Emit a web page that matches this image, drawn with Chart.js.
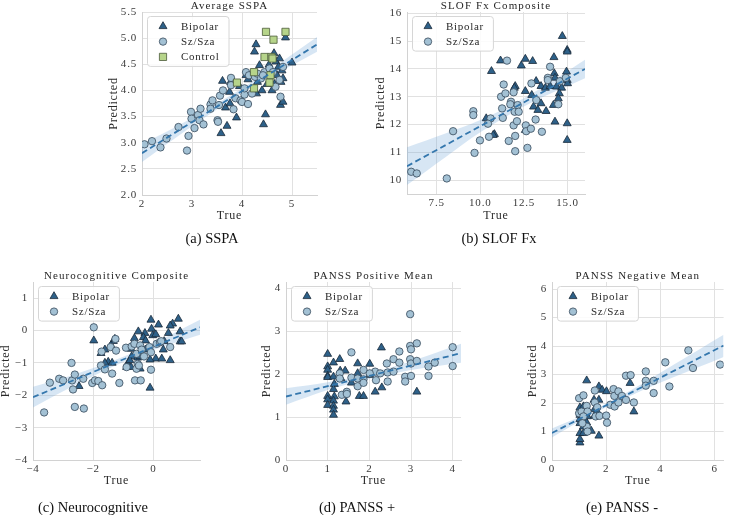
<!DOCTYPE html>
<html>
<head>
<meta charset="utf-8">
<script src="https://cdn.jsdelivr.net/npm/chart.js@4.4.0/dist/chart.umd.min.js"></script>
<style>
  html, body { margin: 0; padding: 0; background: #fff; }
  #fig { position: relative; width: 729px; height: 515px; overflow: hidden; }
  #fig canvas { position: absolute; left: 0; top: 0; }
  .cap {
    position: absolute; width: 160px; text-align: center; white-space: nowrap;
    font-family: 'Liberation Serif', 'Times New Roman', serif;
    font-size: 14.5px; line-height: 14.5px; color: #111;
  }
</style>
</head>
<body>
<div id="fig">
  <canvas id="c0" width="729" height="515"></canvas>
  <canvas id="c1" width="729" height="515"></canvas>
  <canvas id="c2" width="729" height="515"></canvas>
  <canvas id="c3" width="729" height="515"></canvas>
  <canvas id="c4" width="729" height="515"></canvas>
  <div class="cap" style="left:132px;top:231px">(a) SSPA</div>
  <div class="cap" style="left:419px;top:231px">(b) SLOF Fx</div>
  <div class="cap" style="left:13px;top:500px">(c) Neurocognitive</div>
  <div class="cap" style="left:277px;top:500px">(d) PANSS +</div>
  <div class="cap" style="left:542px;top:500px">(e) PANSS -</div>
</div>
<script>
// ---------- data ----------
const groupNames = ["Bipolar", "Sz/Sza", "Control"];

// (a) Average SSPA
const sspaXTicks = [2, 3, 4, 5];
const sspaYTicks = [2, 2.5, 3, 3.5, 4, 4.5, 5, 5.5];
const sspaBipolar = [[3.58,3.18],[3.70,3.32],[3.67,3.67],[3.61,4.18],[3.75,3.97],[3.76,3.75],[3.77,4.16],[3.89,3.48],[3.95,4.08],[4.08,4.29],[4.12,4.21],[4.25,4.74],[4.28,4.88],[4.29,3.94],[4.31,4.16],[4.35,4.48],[4.40,4.00],[4.43,3.35],[4.47,3.54],[4.50,4.12],[4.54,4.49],[4.55,4.35],[4.60,4.00],[4.64,4.71],[4.65,4.12],[4.68,4.55],[4.70,4.29],[4.75,4.61],[4.78,4.16],[4.77,3.72],[4.82,3.78],[4.80,4.38],[4.82,4.23],[4.87,5.01],[5.00,4.53],[4.73,4.45]];
const sspaSz = [[2.05,2.97],[2.20,3.03],[2.37,2.91],[2.49,3.08],[2.73,3.30],[2.90,2.85],[2.93,3.13],[2.98,3.59],[2.99,3.46],[3.05,3.28],[3.12,3.53],[3.15,3.43],[3.17,3.65],[3.23,3.35],[3.37,3.73],[3.37,3.65],[3.41,3.81],[3.51,3.43],[3.52,3.40],[3.56,3.90],[3.62,4.00],[3.54,3.72],[3.78,4.24],[3.78,4.10],[3.83,3.64],[3.87,3.85],[3.97,3.81],[4.00,3.78],[4.05,3.92],[4.12,3.74],[4.05,4.04],[4.08,4.35],[4.14,4.29],[4.20,3.94],[4.26,4.26],[4.31,4.32],[4.38,4.23],[4.45,4.35],[4.55,4.42],[4.62,4.35],[4.67,4.07],[4.75,4.20],[4.77,3.88],[4.82,4.45],[4.42,4.29]];
const sspaControl = [[4.48,5.12],[4.87,5.12],[4.63,4.97],[4.45,4.64],[4.59,4.64],[4.61,4.61],[4.57,4.29],[4.55,4.15],[4.24,4.35],[4.24,4.04],[3.90,4.15]];
const sspaLineX = [2, 5.5];
const sspaLineY = [2.80, 4.88];
const sspaBandX = [2, 2.9, 3.8, 4.6, 5.5];
const sspaBandLo = [2.63, 3.25, 3.82, 4.27, 4.74];
const sspaBandHi = [2.97, 3.42, 3.92, 4.42, 5.02];

// (b) SLOF Fx Composite
const slofXTicks = [7.5, 10, 12.5, 15];
const slofYTicks = [10, 11, 12, 13, 14, 15, 16];
const slofBipolar = [[14.70,15.18],[14.98,14.68],[14.98,14.62],[11.16,14.30],[10.64,13.92],[12.58,14.36],[12.35,14.12],[13.00,14.28],[14.22,14.42],[14.24,13.84],[14.28,13.68],[14.94,13.90],[14.98,13.60],[15.00,13.48],[13.20,13.56],[13.48,13.38],[13.73,13.32],[14.00,13.38],[14.37,13.36],[14.66,13.32],[14.53,13.12],[14.47,12.94],[12.95,13.06],[12.58,13.20],[12.00,13.38],[11.95,13.32],[13.05,12.64],[13.30,12.52],[13.48,12.76],[13.77,12.48],[14.19,12.70],[14.28,12.10],[14.98,12.04],[14.98,11.44],[10.34,12.22],[10.81,11.65],[10.74,11.62],[12.58,11.80]];
const slofSz = [[6.04,10.30],[6.36,10.24],[8.08,10.06],[8.44,11.76],[9.60,12.48],[9.60,12.34],[9.67,10.98],[9.98,11.43],[10.59,12.22],[10.44,12.03],[10.50,11.56],[11.53,14.30],[11.34,13.44],[11.19,13.00],[11.25,12.58],[11.29,12.24],[11.44,13.12],[11.63,11.41],[11.76,12.82],[11.72,12.73],[11.91,11.97],[12.00,11.59],[11.97,12.46],[12.00,11.04],[12.10,12.12],[12.14,12.70],[12.20,12.46],[11.91,13.16],[12.61,11.97],[12.63,11.76],[12.70,11.16],[12.90,11.85],[12.93,13.48],[13.17,12.18],[13.21,12.88],[13.53,11.74],[13.87,13.68],[13.87,13.60],[14.00,14.08],[14.47,12.73],[14.56,13.56],[14.90,13.68]];
const slofLineX = [5.8, 16];
const slofLineY = [10.50, 14.00];
const slofBandX = [5.8, 8, 10, 12.5, 14, 16];
const slofBandLo = [9.82, 10.82, 11.72, 12.65, 13.11, 13.67];
const slofBandHi = [11.18, 11.68, 12.16, 12.95, 13.51, 14.33];

// (c) Neurocognitive Composite
const neuroXTicks = [-4, -2, 0];
const neuroYTicks = [-4, -3, -2, -1, 0, 1];
const neuroBipolar = [[-0.08,0.33],[0.17,0.18],[0.83,0.36],[0.64,0.21],[0.56,0.15],[0.50,-0.08],[0.89,-0.03],[0.89,-0.34],[0.94,-0.34],[-0.50,-0.03],[-0.28,-0.08],[-0.06,0.05],[-0.02,-0.15],[0.08,-0.12],[-0.33,-0.21],[-0.63,-0.24],[-0.26,-0.31],[-0.26,-0.59],[0.33,-0.59],[0.36,-0.33],[0.08,-0.87],[0.28,-0.87],[0.56,-0.92],[-0.11,-0.90],[-0.74,-0.57],[-0.72,-0.80],[-0.52,-0.84],[-0.44,-0.80],[-0.86,-1.03],[-0.78,-0.92],[-0.89,-1.13],[-0.74,-1.13],[-0.44,-1.18],[-0.11,-1.77],[-1.98,-0.31],[-1.33,-0.33],[-1.28,-0.26],[-1.41,-0.46],[-1.61,-0.59],[-1.74,-0.70],[-1.50,-0.97],[-1.37,-1.00],[-1.61,-1.00],[-2.47,-1.72]];
const neuroSz = [[-3.63,-2.53],[-3.44,-1.61],[-3.13,-1.49],[-3.00,-1.54],[-2.72,-1.00],[-2.70,-1.54],[-2.61,-1.36],[-2.67,-1.82],[-2.61,-2.36],[-2.33,-1.49],[-2.31,-2.41],[-1.98,0.10],[-2.03,-1.62],[-1.94,-1.54],[-1.83,-1.56],[-1.70,-1.69],[-1.72,-0.65],[-1.74,-1.08],[-1.61,-1.20],[-1.42,-0.51],[-1.37,-1.33],[-1.26,-0.26],[-1.24,-0.62],[-1.13,-1.62],[-0.91,-0.53],[-0.89,-1.13],[-0.72,-0.49],[-0.63,-0.41],[-0.61,-1.54],[-0.56,-0.72],[-0.52,-1.03],[-0.44,-0.46],[-0.42,-1.54],[-0.39,-0.59],[-0.31,-0.80],[-0.13,-0.51],[-0.08,-1.21],[-0.08,-0.67],[0.11,-0.41],[0.22,-0.36],[0.26,-0.33],[0.56,-0.51],[-0.56,-1.18],[-0.48,-1.08]];
const neuroLineX = [-4, 1.55];
const neuroLineY = [-2.06, 0.10];
const neuroBandX = [-4, -2.5, -1, 0, 1.55];
const neuroBandLo = [-2.38, -1.64, -0.97, -0.60, -0.13];
const neuroBandHi = [-1.74, -1.32, -0.81, -0.40, 0.33];

// (d) PANSS Positive Mean
const posXTicks = [0, 1, 2, 3, 4];
const posYTicks = [0, 1, 2, 3, 4];
const posBipolar = [[1.00,2.47],[1.00,2.18],[1.00,2.10],[1.00,1.96],[1.00,1.93],[1.00,1.49],[1.00,1.41],[1.00,1.28],[1.14,2.27],[1.29,2.35],[1.14,1.94],[1.16,1.77],[1.14,1.65],[1.16,1.48],[1.14,1.38],[1.14,1.26],[1.14,1.17],[1.14,1.05],[1.30,2.08],[1.42,2.08],[1.44,1.36],[1.32,1.90],[1.72,2.25],[1.72,2.02],[1.76,1.49],[1.86,1.49],[1.57,1.80],[2.01,2.24],[2.01,1.98],[2.14,1.59],[2.29,2.62],[2.30,1.69],[3.14,1.59]];
const posSz = [[1.57,2.51],[1.29,2.02],[1.29,1.90],[1.34,1.52],[1.46,1.59],[1.46,1.54],[1.57,1.92],[1.72,1.90],[1.72,1.72],[1.86,2.10],[1.86,1.88],[1.86,1.80],[2.14,2.06],[2.16,1.86],[2.26,2.02],[2.42,2.25],[2.44,2.04],[2.44,1.83],[2.58,2.35],[2.58,2.06],[2.72,2.53],[2.72,2.27],[2.86,1.94],[2.86,1.83],[2.98,3.40],[2.98,2.66],[3.00,2.58],[2.98,2.35],[3.00,2.25],[3.00,1.96],[3.14,2.72],[3.14,2.31],[3.42,2.18],[3.42,1.96],[3.57,2.27],[4.00,2.63],[4.00,2.19],[2.01,2.02]];
const posLineX = [0, 4.2];
const posLineY = [1.48, 2.49];
const posBandX = [0, 1, 1.8, 3, 4.2];
const posBandLo = [1.29, 1.63, 1.85, 2.10, 2.27];
const posBandHi = [1.67, 1.81, 1.97, 2.30, 2.71];

// (e) PANSS Negative Mean
const negXTicks = [0, 2, 4, 6];
const negYTicks = [0, 1, 2, 3, 4, 5, 6];
const negBipolar = [[1.03,0.61],[1.03,0.73],[1.03,0.94],[1.03,1.29],[1.03,1.43],[1.03,1.58],[1.03,1.73],[1.03,1.84],[1.16,0.94],[1.16,1.17],[1.16,1.47],[1.16,1.88],[1.28,1.31],[1.28,2.79],[1.31,1.53],[1.45,1.02],[1.55,2.11],[1.57,1.78],[1.57,1.55],[1.73,2.58],[1.73,2.11],[1.73,0.85],[1.85,2.46],[2.01,2.41],[2.88,2.70],[3.02,1.70],[1.67,1.70]];
const negSz = [[1.00,2.17],[1.16,2.27],[1.00,1.64],[1.09,1.70],[1.28,1.90],[1.31,1.70],[1.16,1.53],[1.28,1.17],[1.31,1.00],[1.12,1.29],[1.58,2.44],[1.58,2.02],[1.61,1.53],[1.67,1.85],[1.75,1.55],[2.00,1.56],[2.03,1.31],[2.15,1.94],[2.27,2.49],[2.30,2.25],[2.31,1.88],[2.45,2.41],[2.45,2.02],[2.58,2.25],[2.73,2.96],[2.90,2.98],[2.73,2.11],[3.02,2.02],[3.46,3.11],[3.46,2.78],[3.46,2.61],[3.75,2.78],[3.75,2.35],[4.18,3.43],[4.33,2.58],[5.03,3.85],[5.20,3.23],[6.20,3.35]];
const negLineX = [0, 6.33];
const negLineY = [0.95, 4.02];
const negBandX = [0, 1, 1.8, 3, 4.5, 6.33];
const negBandLo = [0.79, 1.35, 1.76, 2.30, 2.91, 3.62];
const negBandHi = [1.11, 1.51, 1.88, 2.50, 3.35, 4.40];

// ---------- styling / layout ----------
const FONT = "'Liberation Serif', 'Times New Roman', serif";
const W = 729, H = 515;
Chart.defaults.font.family = FONT;
Chart.defaults.color = "#3a3a3a";

const markStyle = {
  "Bipolar": { pointStyle: "triangle", radius: 4.6, bg: "#2e6189", border: "#1a2a38" },
  "Sz/Sza":  { pointStyle: "circle",   radius: 3.7, bg: "#a3c1d4", border: "#36495a" },
  "Control": { pointStyle: "rect",     radius: 5.1, bg: "#b6d48a", border: "#4b5a3a" }
};

const panels = [
  { id: "c0", title: "Average SSPA", area: [142, 12, 317, 195], yTitleX: 114, xTitleY: 216,
    xMin: 2, xMax: 5.5, yMin: 2, yMax: 5.5, xTicks: sspaXTicks, yTicks: sspaYTicks, xDec: 0, yDec: 1,
    groups: [sspaBipolar, sspaSz, sspaControl],
    lineX: sspaLineX, lineY: sspaLineY, bandX: sspaBandX, bandLo: sspaBandLo, bandHi: sspaBandHi },
  { id: "c1", title: "SLOF Fx Composite", area: [407, 12, 585, 194], yTitleX: 381, xTitleY: 216,
    xMin: 5.8, xMax: 16, yMin: 9.5, yMax: 16.05, xTicks: slofXTicks, yTicks: slofYTicks, xDec: 1, yDec: 0,
    groups: [slofBipolar, slofSz],
    lineX: slofLineX, lineY: slofLineY, bandX: slofBandX, bandLo: slofBandLo, bandHi: slofBandHi },
  { id: "c2", title: "Neurocognitive Composite", area: [33, 282, 200, 460], yTitleX: 6, xTitleY: 481,
    xMin: -4, xMax: 1.55, yMin: -4, yMax: 1.5, xTicks: neuroXTicks, yTicks: neuroYTicks, xDec: 0, yDec: 0,
    groups: [neuroBipolar, neuroSz],
    lineX: neuroLineX, lineY: neuroLineY, bandX: neuroBandX, bandLo: neuroBandLo, bandHi: neuroBandHi },
  { id: "c3", title: "PANSS Positive Mean", area: [286, 282, 461, 460], yTitleX: 267, xTitleY: 481,
    xMin: 0, xMax: 4.2, yMin: 0, yMax: 4.15, xTicks: posXTicks, yTicks: posYTicks, xDec: 0, yDec: 0,
    groups: [posBipolar, posSz],
    lineX: posLineX, lineY: posLineY, bandX: posBandX, bandLo: posBandLo, bandHi: posBandHi },
  { id: "c4", title: "PANSS Negative Mean", area: [552, 282, 727, 460], yTitleX: 533, xTitleY: 481,
    xMin: 0, xMax: 6.33, yMin: 0, yMax: 6.25, xTicks: negXTicks, yTicks: negYTicks, xDec: 0, yDec: 0,
    groups: [negBipolar, negSz],
    lineX: negLineX, lineY: negLineY, bandX: negBandX, bandLo: negBandLo, bandHi: negBandHi }
];

function fmt(v, dec) {
  return v.toFixed(dec).replace("-", "\u2212");
}
function pts(xs, ys) {
  return xs.map((x, i) => ({ x: x, y: ys[i] }));
}

// letter spacing like the original's spaced serif text
const spacing = {
  id: "spacing",
  beforeLayout(chart) { chart.ctx.letterSpacing = "0.8px"; },
  beforeDraw(chart) { chart.ctx.letterSpacing = "0.8px"; }
};

// panel title + legend box drawn inside the plot
const decor = {
  id: "decor",
  afterDraw(chart, args, opts) {
    const ctx = chart.ctx;
    const a = chart.chartArea;
    ctx.save();
    ctx.letterSpacing = "1.1px";
    ctx.font = "11px " + FONT;
    ctx.fillStyle = "#262626";
    ctx.textAlign = "center";
    ctx.textBaseline = "alphabetic";
    ctx.fillText(opts.title, (a.left + a.right) / 2, a.top - 3.5);

    const items = chart.data.datasets.filter(d => d.legendName);
    ctx.font = "11px " + FONT;
    ctx.letterSpacing = "0.7px";
    let tw = 0;
    items.forEach(d => { tw = Math.max(tw, ctx.measureText(d.legendName).width); });
    const bx = a.left + 5.5, by = a.top + 4.5;
    const bw = 34 + tw + 9, bh = items.length * 15.3 + 4;
    ctx.beginPath();
    ctx.roundRect(bx, by, bw, bh, 3);
    ctx.fillStyle = "rgba(255,255,255,0.85)";
    ctx.fill();
    ctx.strokeStyle = "#d6d6d6";
    ctx.lineWidth = 1;
    ctx.stroke();
    items.forEach((d, i) => {
      const y = by + 9.8 + i * 15.3;
      ctx.fillStyle = d.backgroundColor;
      ctx.strokeStyle = d.borderColor;
      ctx.lineWidth = 0.8;
      Chart.helpers.drawPoint(ctx, { pointStyle: d.pointStyle, radius: d.pointRadius, rotation: 0, borderWidth: 0.8 }, bx + 15.5, y);
      ctx.fillStyle = "#2a2a2a";
      ctx.textAlign = "left";
      ctx.textBaseline = "middle";
      ctx.fillText(d.legendName, bx + 33.5, y + 0.5);
    });
    ctx.restore();
  }
};

panels.forEach(p => {
  const [L, T, R, B] = p.area;
  const yW = L - p.yTitleX + 7.2;
  const xH = p.xTitleY + 7.2 - B;

  const datasets = [];
  datasets.push({
    type: "line", data: pts(p.lineX, p.lineY), borderColor: "#3477ad", borderWidth: 1.8,
    borderDash: [6, 3.5], pointRadius: 0, fill: false, order: 0
  });
  p.groups.forEach((g, i) => {
    const name = groupNames[i];
    const s = markStyle[name];
    datasets.push({
      type: "scatter", legendName: name,
      data: g.map(q => ({ x: q[0], y: q[1] })),
      pointStyle: s.pointStyle, pointRadius: s.radius,
      backgroundColor: s.bg, borderColor: s.border, borderWidth: 0.8,
      order: i === 2 ? 1 : 3 - i
    });
  });
  datasets.push({
    type: "line", data: pts(p.bandX, p.bandHi), borderWidth: 0, pointRadius: 0, tension: 0.35,
    backgroundColor: "rgba(110,165,215,0.28)", fill: "+1", order: 8
  });
  datasets.push({
    type: "line", data: pts(p.bandX, p.bandLo), borderWidth: 0, pointRadius: 0, tension: 0.35,
    fill: false, order: 9
  });

  new Chart(document.getElementById(p.id), {
    type: "scatter",
    data: { datasets },
    plugins: [spacing, decor],
    options: {
      responsive: false,
      animation: false,
      devicePixelRatio: 1,
      events: [],
      layout: { padding: { left: p.yTitleX - 7.2, top: T, right: W - R, bottom: H - p.xTitleY - 7.2 } },
      plugins: {
        legend: { display: false },
        tooltip: { enabled: false },
        decor: { title: p.title }
      },
      scales: {
        x: {
          type: "linear", min: p.xMin, max: p.xMax,
          afterBuildTicks: s => { s.ticks = p.xTicks.map(v => ({ value: v })); },
          afterFit: s => { s.height = xH; },
          ticks: { padding: 3, font: { size: 11 }, color: "#3a3a3a", callback: v => fmt(v, p.xDec) },
          grid: { color: "#e1e1e1", lineWidth: 1, drawTicks: false },
          border: { display: true, color: "#d2d2d2" },
          title: { display: true, text: "True", font: { size: 12 }, color: "#2a2a2a", padding: 0 }
        },
        y: {
          type: "linear", min: p.yMin, max: p.yMax,
          afterBuildTicks: s => { s.ticks = p.yTicks.map(v => ({ value: v })); },
          afterFit: s => { s.width = yW; },
          ticks: { padding: 5, font: { size: 11 }, color: "#3a3a3a", callback: v => fmt(v, p.yDec) },
          grid: { color: "#e1e1e1", lineWidth: 1, drawTicks: false },
          border: { display: true, color: "#d2d2d2" },
          title: { display: true, text: "Predicted", font: { size: 12 }, color: "#2a2a2a", padding: 0 }
        }
      }
    }
  });
});
</script>
</body>
</html>
